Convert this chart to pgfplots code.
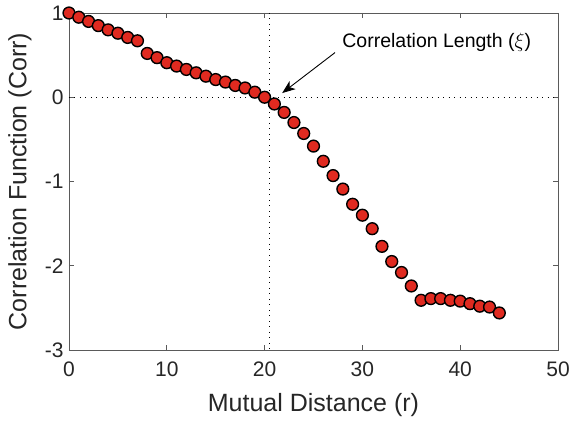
\documentclass[border=0pt]{standalone}
\usepackage{pgfplots}
\pgfplotsset{compat=1.18}
\usetikzlibrary{arrows.meta}
\usepackage{fontspec}
\setmainfont{Liberation Sans}
\definecolor{mred}{RGB}{224,42,32}
\definecolor{mgray}{RGB}{38,38,38}
\definecolor{agray}{RGB}{90,90,90}
\begin{document}
\begin{tikzpicture}
\begin{axis}[
  scale only axis,
  width=489pt, height=337pt,
  xmin=0, xmax=50, ymin=-3, ymax=1,
  xtick={0,10,20,30,40,50},
  ytick={-3,-2,-1,0,1},
  yticklabels={-3,-2,-1,0,1},
  xticklabel style={font=\fontsize{21}{24}\selectfont, text=mgray, yshift=-8pt},
  yticklabel style={font=\fontsize{21}{24}\selectfont, text=mgray, xshift=-2pt},
  /pgf/number format/assume math mode=true,
  tick align=inside,
  major tick length=5pt,
  axis line style={agray, line width=0.7pt},
  tick style={agray, line width=0.7pt},
  xlabel={Mutual Distance (r)},
  ylabel={Correlation Function (Corr)},
  xlabel style={font=\fontsize{25}{28}\selectfont, text=mgray, at={(axis description cs:0.5,-0.163)}, anchor=center},
  ylabel style={font=\fontsize{25}{28}\selectfont, text=mgray, at={(axis description cs:-0.1002,0.5)}, anchor=center},
  clip=false,
]
\addplot[black, line width=0.9pt, dash pattern=on 0.9pt off 4.6pt] coordinates {(0,0) (50,0)};
\addplot[black, line width=0.9pt, dash pattern=on 0.9pt off 4.6pt] coordinates {(20.5,1) (20.5,-3)};
\addplot[only marks, mark=*, mark size=5.9pt, mark options={fill=mred, draw=black, line width=1.4pt}] coordinates {
(0,1.00) (1,0.95) (2,0.90) (3,0.85) (4,0.80) (5,0.76) (6,0.71) (7,0.67)
(8,0.52) (9,0.47) (10,0.41) (11,0.37) (12,0.33) (13,0.29) (14,0.25) (15,0.21)
(16,0.18) (17,0.14) (18,0.11) (19,0.06) (20,0.00) (21,-0.08) (22,-0.18) (23,-0.30)
(24,-0.43) (25,-0.58) (26,-0.76) (27,-0.93) (28,-1.09) (29,-1.27) (30,-1.40) (31,-1.56)
(32,-1.77) (33,-1.95) (34,-2.08) (35,-2.24) (36,-2.41) (37,-2.39) (38,-2.39) (39,-2.41)
(40,-2.42) (41,-2.45) (42,-2.48) (43,-2.49) (44,-2.56)
};
\draw[-{Stealth[length=13pt,width=10pt,inset=3.5pt]}, black, line width=0.9pt] (axis cs:27.2,0.53) -- (axis cs:21.8,0.05);
\node[anchor=center, font=\fontsize{19.5}{22}\selectfont, text=black] at (axis cs:37.6,0.65) {Correlation Length ($\xi$)};
\end{axis}
\pgfresetboundingbox
\path[use as bounding box] ([xshift=-69pt,yshift=-72pt]current axis.south west) rectangle ([xshift=14pt,yshift=13pt]current axis.north east);
\end{tikzpicture}
\end{document}
